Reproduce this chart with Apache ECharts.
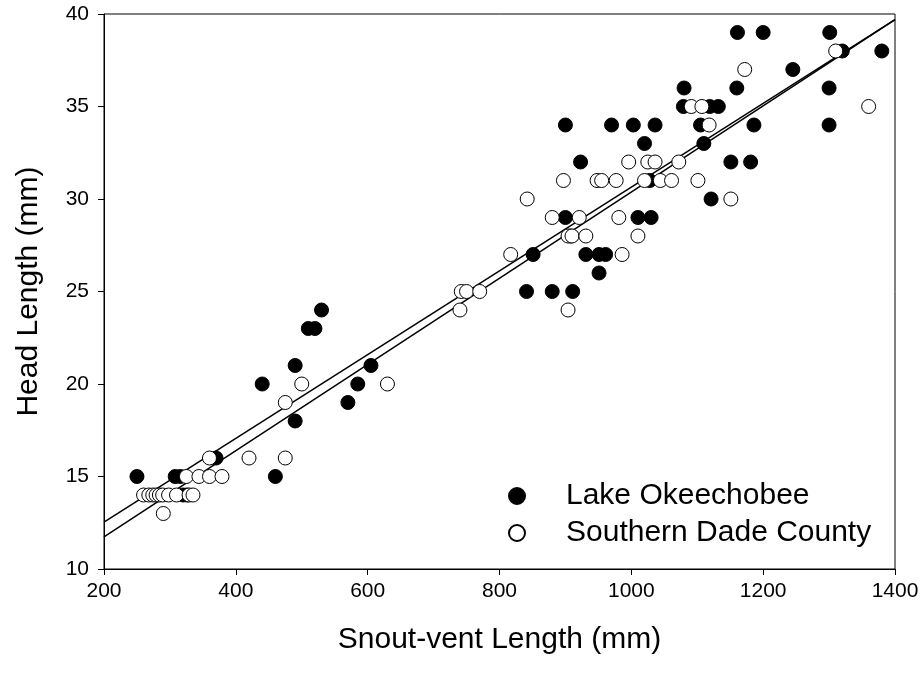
<!DOCTYPE html>
<html>
<head>
<meta charset="utf-8">
<script src="https://cdn.jsdelivr.net/npm/echarts@6/dist/echarts.min.js"></script>
<style>html,body{margin:0;padding:0;background:#fff}#c{width:924px;height:673px}</style>
</head>
<body>
<div id="c"></div>
<script>
// Lake Okeechobee (filled circles)
const lakeX = [250,308,316,320,326,370,440,460,490,490,510,520,530,570,585,605,841,851,880,900,900,908,911,923,931,951,951,961,970,1003,1010,1020,1028,1030,1036,1079,1080,1105,1110,1119,1121,1132,1151,1160,1161,1181,1186,1200,1245,1300,1300,1301,1320,1380];
const lakeY = [15,15,15,14,14,16,20,15,21,18,23,23,24,19,20,21,25,27,25,34,29,28,25,32,27,27,26,27,34,34,29,33,31,29,34,35,36,34,33,35,30,35,32,36,39,32,34,39,37,36,34,39,38,38];
// Southern Dade County (open circles)
const dadeX = [260,268,274,279,284,289,298,310,329,335,290,325,344,360,379,360,420,475,475,500,630,740,742,750,770,817,842,880,897,904,904,910,921,931,948,955,977,981,986,996,1010,1020,1025,1036,1044,1061,1072,1091,1101,1107,1118,1151,1172,1310,1360];
const dadeY = [14,14,14,14,14,14,14,14,14,14,13,15,15,15,15,16,16,16,19,20,20,24,25,25,25,27,30,29,31,28,24,28,29,28,31,31,31,29,27,32,28,31,32,32,31,31,32,35,31,35,34,30,37,38,35];
// Regression lines (endpoints)
const fitX = [200, 1400];
const lakeFitY = [12.54, 39.7];
const dadeFitY = [11.73, 39.7];
// Axis ticks
const xTicks = [200, 400, 600, 800, 1000, 1200, 1400];
const yTicks = [10, 15, 20, 25, 30, 35, 40];

const zip = (a, b) => a.map((v, i) => [v, b[i]]);
const font = 'Liberation Sans, Arial, sans-serif';

const chart = echarts.init(document.getElementById('c'), null, {renderer: 'canvas'});
chart.setOption({
  animation: false,
  backgroundColor: '#fff',
  grid: {left: 104, right: 29, top: 14, bottom: 104, show: true, borderColor: '#000', borderWidth: 1, backgroundColor: 'transparent'},
  xAxis: {
    type: 'value', min: xTicks[0], max: xTicks[xTicks.length-1], interval: 200,
    name: 'Snout-vent Length (mm)', nameLocation: 'middle', nameGap: 56,
    nameTextStyle: {fontFamily: font, fontSize: 30, color: '#000'},
    axisLine: {lineStyle: {color: '#000', width: 1}},
    axisTick: {show: true, length: 6, lineStyle: {color: '#000'}},
    axisLabel: {fontFamily: font, fontSize: 21, color: '#000', margin: 12, formatter: v => String(v)},
    splitLine: {show: false}
  },
  yAxis: {
    type: 'value', min: yTicks[0], max: yTicks[yTicks.length-1], interval: 5,
    name: 'Head Length (mm)', nameLocation: 'middle', nameGap: 60, nameRotate: 90,
    nameTextStyle: {fontFamily: font, fontSize: 30, color: '#000'},
    axisLine: {show: true, lineStyle: {color: '#000', width: 1}},
    axisTick: {show: true, length: 6, lineStyle: {color: '#000'}},
    axisLabel: {fontFamily: font, fontSize: 21, color: '#000', margin: 15, formatter: v => String(v)},
    splitLine: {show: false}
  },
  legend: {
    orient: 'vertical', left: 503, top: 476, itemGap: 7,
    itemWidth: 16, itemHeight: 16,
    data: ['Lake Okeechobee', 'Southern Dade County'],
    textStyle: {fontFamily: font, fontSize: 30, color: '#000', padding: [0, 0, 0, 36]}
  },
  series: [
    {type: 'line', data: zip(fitX, lakeFitY), symbol: 'none', lineStyle: {color: '#000', width: 1.5}, z: 1, silent: true},
    {type: 'line', data: zip(fitX, dadeFitY), symbol: 'none', lineStyle: {color: '#000', width: 1.5}, z: 1, silent: true},
    {name: 'Lake Okeechobee', type: 'scatter', data: zip(lakeX, lakeY), symbol: 'circle', symbolSize: 14,
     itemStyle: {color: '#000', borderColor: '#000', borderWidth: 1, opacity: 1}, z: 3},
    {name: 'Southern Dade County', type: 'scatter', data: zip(dadeX, dadeY), symbol: 'circle', symbolSize: 14,
     itemStyle: {color: '#fff', borderColor: '#000', borderWidth: 1, opacity: 1}, z: 4}
  ]
});
</script>
</body>
</html>
